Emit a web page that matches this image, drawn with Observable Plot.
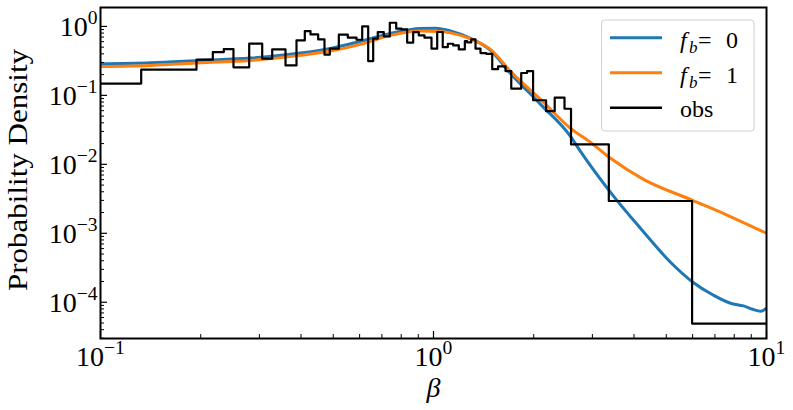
<!DOCTYPE html>
<html><head><meta charset="utf-8">
<script src="https://cdn.jsdelivr.net/npm/d3@7"></script>
<script src="https://cdn.jsdelivr.net/npm/@observablehq/plot@0.6"></script>
<style>
body{margin:0;background:#fff;}
svg{font-family:"Liberation Serif",serif;}
</style></head><body><div id="chart"></div>
<script>
// ---- data ----
const histEdges = [0.1, 0.1325, 0.1942, 0.2174, 0.2346, 0.2508, 0.2796, 0.3059, 0.3278, 0.3594, 0.3878, 0.4107, 0.4272, 0.4505, 0.4706, 0.4882, 0.5196, 0.5529, 0.5872, 0.6108, 0.6366, 0.6590, 0.6803, 0.7091, 0.7392, 0.7727, 0.8014, 0.8336, 0.8690, 0.9033, 0.9397, 0.9863, 1.026, 1.066, 1.104, 1.146, 1.191, 1.242, 1.262, 1.298, 1.337, 1.384, 1.440, 1.501, 1.563, 1.645, 1.712, 1.834, 1.910, 1.991, 2.178, 2.312, 2.474, 2.588, 3.361, 5.978, 10];
const histValues = [0.148, 0.236, 0.329, 0.425, 0.469, 0.255, 0.561, 0.34, 0.464, 0.272, 0.627, 0.855, 0.766, 0.648, 0.389, 0.475, 0.758, 0.686, 0.641, 1.0, 0.314, 0.663, 0.827, 0.716, 1.13, 0.926, 0.905, 0.58, 0.827, 0.74, 0.686, 0.475, 0.83, 0.5, 0.56, 0.53, 0.464, 0.61, 0.586, 0.648, 0.475, 0.41, 0.40, 0.24, 0.263, 0.225, 0.125, 0.211, 0.225, 0.085, 0.059, 0.093, 0.064, 0.0195, 0.00294, 4.9e-5];

const fb0Beta = [0.1, 0.1413, 0.1996, 0.2821, 0.3987, 0.4906, 0.6036, 0.7427, 0.9142, 1.014, 1.125, 1.291, 1.483, 1.703, 2.096, 2.579, 2.763, 3.401, 4.183, 5.150, 5.996, 6.932, 7.797, 8.530, 9.078, 9.594, 10];
const fb0Dens = [0.288, 0.298, 0.3215, 0.347, 0.410, 0.480, 0.606, 0.792, 0.936, 0.942, 0.861, 0.670, 0.449, 0.2084, 0.0741, 0.02545, 0.01543, 0.003928, 0.001182, 3.80e-4, 1.968e-4, 1.263e-4, 9.67e-5, 8.84e-5, 7.92e-5, 7.41e-5, 8.18e-5];

const fb1Beta = [0.1, 0.1413, 0.1996, 0.2821, 0.3987, 0.4906, 0.6036, 0.7427, 0.9142, 1.050, 1.125, 1.291, 1.483, 1.703, 2.096, 2.579, 2.962, 3.401, 4.272, 5.996, 7.637, 10];
const fb1Dens = [0.263, 0.272, 0.296, 0.3215, 0.380, 0.4386, 0.548, 0.741, 0.855, 0.846, 0.805, 0.659, 0.464, 0.2228, 0.0875, 0.03324, 0.02084, 0.01222, 0.00606, 0.003008, 0.001824, 0.001];

const xMajorTicks = [0.1, 1, 10];
const xTickLabels = ["10^\u22121", "10^0", "10^1"];
const xMinorTicks = [0.2, 0.3, 0.4, 0.5, 0.6, 0.7, 0.8, 0.9, 2, 3, 4, 5, 6, 7, 8, 9];
const yMajorTicks = [1e-4, 1e-3, 1e-2, 1e-1, 1];
const yTickLabels = ["10^\u22124", "10^\u22123", "10^\u22122", "10^\u22121", "10^0"];
const yMinorTicks = [3e-5,4e-5,5e-5,6e-5,7e-5,8e-5,9e-5,2e-4,3e-4,4e-4,5e-4,6e-4,7e-4,8e-4,9e-4,2e-3,3e-3,4e-3,5e-3,6e-3,7e-3,8e-3,9e-3,2e-2,3e-2,4e-2,5e-2,6e-2,7e-2,8e-2,9e-2,0.2,0.3,0.4,0.5,0.6,0.7,0.8,0.9];
const xDomain = [0.1, 10];
const yDomain = [2.98e-5, 1.88];
const xLabel = "β";
const yLabel = "Probability Density";
const seriesNames = ["f_b = 0", "f_b = 1", "obs"];
const seriesColors = ["#1f77b4", "#ff7f0e", "#000000"];

// ---- build tables ----
const fb0 = fb0Beta.map((b, i) => ({b, v: fb0Dens[i]}));
const fb1 = fb1Beta.map((b, i) => ({b, v: fb1Dens[i]}));
const hist = histValues.map((v, i) => ({b: histEdges[i], v}));
hist.push({b: histEdges[histEdges.length - 1], v: histValues[histValues.length - 1]});

const serif = "'Liberation Serif', serif";
const chart = Plot.plot({
  width: 793, height: 410,
  marginLeft: 100, marginRight: 27, marginTop: 7, marginBottom: 72,
  x: {type: "log", domain: xDomain},
  y: {type: "log", domain: yDomain},
  style: {fontFamily: serif, background: "#fff", color: "#000"},
  marks: [
    Plot.line(fb0, {x: "b", y: "v", curve: "monotone-x", stroke: seriesColors[0], strokeWidth: 3, clip: true}),
    Plot.line(fb1, {x: "b", y: "v", curve: "monotone-x", stroke: seriesColors[1], strokeWidth: 3, clip: true}),
    Plot.line(hist, {x: "b", y: "v", curve: "step-after", stroke: seriesColors[2], strokeWidth: 2.2, clip: true}),
    Plot.axisX({ticks: xMajorTicks, tickSize: -7, fill: "none", label: null, strokeWidth: 1.2}),
    Plot.axisX({ticks: xMinorTicks, tickSize: -4, fill: "none", label: null, strokeWidth: 1}),
    Plot.axisY({ticks: yMajorTicks, tickSize: -7, fill: "none", label: null, strokeWidth: 1.2}),
    Plot.axisY({ticks: yMinorTicks, tickSize: -4, fill: "none", label: null, strokeWidth: 1}),
    Plot.frame({stroke: "#000", strokeWidth: 2}),
    Plot.text(xMajorTicks, {x: d => d, frameAnchor: "bottom", dy: 27, lineAnchor: "bottom", textAnchor: "middle",
      text: (d, i) => xTickLabels[i], fontSize: 28, fill: "#000", className: "xtl"}),
    Plot.text(yMajorTicks, {y: d => d, frameAnchor: "left", dx: -3, dy: 10, lineAnchor: "bottom", textAnchor: "end",
      text: (d, i) => yTickLabels[i], fontSize: 28, fill: "#000", className: "ytl"}),
    Plot.text([xLabel], {frameAnchor: "bottom", dy: 58, lineAnchor: "bottom", textAnchor: "middle", fontSize: 28, fontStyle: "italic", fill: "#000"}),
    Plot.text([yLabel], {frameAnchor: "left", dx: -82, dy: -3, rotate: -90, textAnchor: "middle", lineAnchor: "middle", fontSize: 28, fill: "#000", className: "ylab"})
  ]
});
document.getElementById("chart").appendChild(chart);

// superscripts for tick labels
function supify(sel, anchor) {
  sel.each(function() {
    const t = this.textContent;
    const m = t.match(/^([^\^]*)\^(.*)$/);
    if (!m) return;
    const s = d3.select(this);
    s.text(null).attr("text-anchor", anchor);
    s.append("tspan").text(m[1]);
    s.append("tspan").attr("font-size", 19.6).attr("dy", -12).text(m[2]);
  });
}
const root = d3.select(chart);
supify(root.selectAll(".xtl text"), "middle");
supify(root.selectAll(".ytl text"), "end");
root.selectAll("text").filter(function() { return this.textContent === yLabel; })
  .attr("text-anchor", "middle").attr("textLength", 242).attr("lengthAdjust", "spacingAndGlyphs");

// legend
const lg = root.append("g").attr("text-anchor", "start");
lg.append("rect").attr("x", 601.5).attr("y", 20).attr("width", 152.5).attr("height", 111)
  .attr("rx", 3).attr("fill", "#fff").attr("fill-opacity", 0.8).attr("stroke", "#d0d0d0").attr("stroke-width", 1);
seriesNames.forEach((name, i) => {
  const cy = 37.7 + i * 35;
  lg.append("line").attr("x1", 610).attr("x2", 662).attr("y1", cy).attr("y2", cy)
    .attr("stroke", seriesColors[i]).attr("stroke-width", i < 2 ? 3 : 2.5);
  const t = lg.append("text").attr("y", cy + 10).attr("font-size", 24).attr("fill", "#000")
    .attr("font-family", serif).attr("text-anchor", "start");
  const m = name.match(/^(\w)_(\w) = (.*)$/);
  if (m) {
    t.append("tspan").attr("x", 680).attr("font-style", "italic").text(m[1]);
    t.append("tspan").attr("x", 689).attr("dy", 5).attr("font-size", 17).attr("font-style", "italic").text(m[2]);
    t.append("tspan").attr("x", 698).attr("dy", -5).text("=");
    t.append("tspan").attr("x", 726).text(m[3]);
  } else {
    t.attr("y", cy + 9).append("tspan").attr("x", 680).text(name);
  }
});
</script></body></html>
